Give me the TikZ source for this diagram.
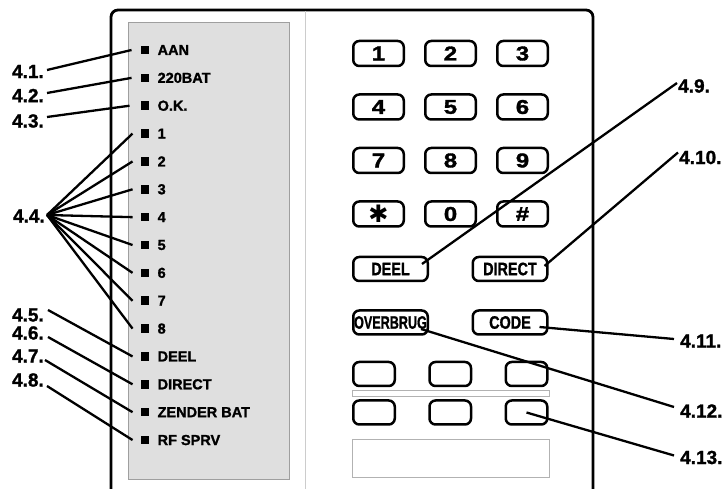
\documentclass[tikz,border=0pt]{standalone}
\usepackage{fontspec}
\setmainfont{Liberation Sans}
\newfontfamily\heavy[FakeBold=1.3]{Liberation Sans}
\newfontfamily\wide[FakeBold=1.6,FakeStretch=1.2]{Liberation Sans}
\newfontfamily\dingfont{DejaVu Sans}
\usetikzlibrary{positioning}

\newcommand{\condensed}[2][0.8]{\scalebox{#1}[1]{#2}}

\begin{document}
\begin{tikzpicture}[x=1pt,y=-1pt,
  led/.style={fill=black,minimum size=8.5pt,inner sep=0pt},
  ledtext/.style={font=\heavy\bfseries\fontsize{14.5}{14.5}\selectfont,inner sep=0pt},
  callout/.style={font=\heavy\bfseries\fontsize{19}{19}\selectfont,inner sep=1pt},
  leader/.style={line width=2.3pt},
  key/.style={draw,line width=2.5pt,rounded corners=6pt,minimum width=50.5pt,
    minimum height=25pt,inner sep=0pt,font=\wide\bfseries\fontsize{20}{20}\selectfont},
  fkey/.style={key,minimum width=74.5pt,minimum height=24pt,
    font=\heavy\bfseries\fontsize{18}{18}\selectfont},
  bkey/.style={key,minimum width=41.5pt,minimum height=24pt}]
  \useasboundingbox (0,0) rectangle (724,489);

  % housing and led panel
  \draw[line width=2.8pt,rounded corners=7pt] (111,489) -- (111,10) -- (593,10) -- (593,489);
  \draw[gray!75,fill=gray!25] (128,22) rectangle (289,479);
  \draw[gray!40,line width=1pt] (305,11) -- (305,489);

  % leds
  \foreach \txt [count=\i] in {AAN,220BAT,O.K.,1,2,3,4,5,6,7,8,DEEL,DIRECT,ZENDER BAT,RF SPRV}{
    \node[led] (led\i) at (145,{50+(\i-1)*27.86}) {};
    \node[ledtext,right=8pt of led\i] (ledtxt\i) {\txt};
  }

  % keypad
  \foreach \lab [count=\i from 0] in {1,2,3,4,5,6,7,8,9,{\dingfont\fontsize{24}{24}\selectfont ✱},0,\#}{
    \pgfmathtruncatemacro\col{mod(\i,3)}
    \pgfmathtruncatemacro\row{div(\i,3)}
    \node[key] (key\i) at ({378.5+\col*72},{53.5+\row*53.5}) {\lab};
  }
  \node[fkey] (deel) at (390.5,269) {\condensed{DEEL}};
  \node[fkey] (direct) at (510,269) {\condensed{DIRECT}};
  \node[fkey] (overbrug) at (390.5,322.5) {\condensed[0.7]{OVERBRUG}};
  \node[fkey] (code) at (510,322.5) {\condensed{CODE}};
  \foreach \r in {0,1}
    \foreach \c in {0,1,2}
      \node[bkey] (blank\r\c) at ({374+\c*76.25},{374+\r*38.5}) {};
  \draw[gray!60] (352,390) rectangle (549,396);
  \draw[gray!60,line width=0.8pt] (352,439) rectangle (549,477);

  % callouts left
  \node[callout,anchor=east] (c41) at (45,71.5) {4.1.};
  \node[callout,anchor=east] (c42) at (45,95.5) {4.2.};
  \node[callout,anchor=east] (c43) at (45,121) {4.3.};
  \node[callout,anchor=east] (c44) at (46,216) {4.4.};
  \node[callout,anchor=east] (c45) at (45,315) {4.5.};
  \node[callout,anchor=east] (c46) at (45,333) {4.6.};
  \node[callout,anchor=east] (c47) at (45,356) {4.7.};
  \node[callout,anchor=east] (c48) at (45,380) {4.8.};
  \draw[leader] ([shift={(2,-1.5)}]c41.east) -- ([xshift=-9pt]led1.west);
  \draw[leader] ([shift={(2,-2.5)}]c42.east) -- ([xshift=-9pt]led2.west);
  \draw[leader] ([shift={(2,-4)}]c43.east) -- ([xshift=-11pt]led3.west);
  \foreach \i in {4,...,11}
    \draw[leader] ([shift={(1,-1)}]c44.east) -- ([xshift=-8pt]led\i.west);
  \draw[leader] ([shift={(3,-5)}]c45.east) -- ([xshift=-8pt]led12.west);
  \draw[leader] ([shift={(3,4)}]c46.east) -- ([xshift=-8pt]led13.west);
  \draw[leader] ([shift={(0,4)}]c47.east) -- ([xshift=-8pt]led14.west);
  \draw[leader] ([shift={(2,6)}]c48.east) -- ([xshift=-8pt]led15.west);

  % callouts right
  \node[callout,anchor=west] (c49) at (677,86) {4.9.};
  \node[callout,anchor=west] (c410) at (678,157.5) {4.10.};
  \node[callout,anchor=west] (c411) at (679,341) {4.11.};
  \node[callout,anchor=west] (c412) at (679,411) {4.12.};
  \node[callout,anchor=west] (c413) at (679,457.5) {4.13.};
  \draw[leader] ([shift={(0,-3)}]c49.west) -- ([shift={(-7,-5)}]deel.east);
  \draw[leader] ([shift={(0,-5)}]c410.west) -- ([shift={(-4,-3)}]direct.east);
  \draw[leader] ([shift={(-5,-2)}]c411.west) -- ([shift={(-9,4.5)}]code.east);
  \draw[leader] ([shift={(-5,-4)}]c412.west) -- ([shift={(-8,6.5)}]overbrug.east);
  \draw[leader] ([shift={(-5,-2)}]c413.west) -- (blank12.center);
\end{tikzpicture}
\end{document}
